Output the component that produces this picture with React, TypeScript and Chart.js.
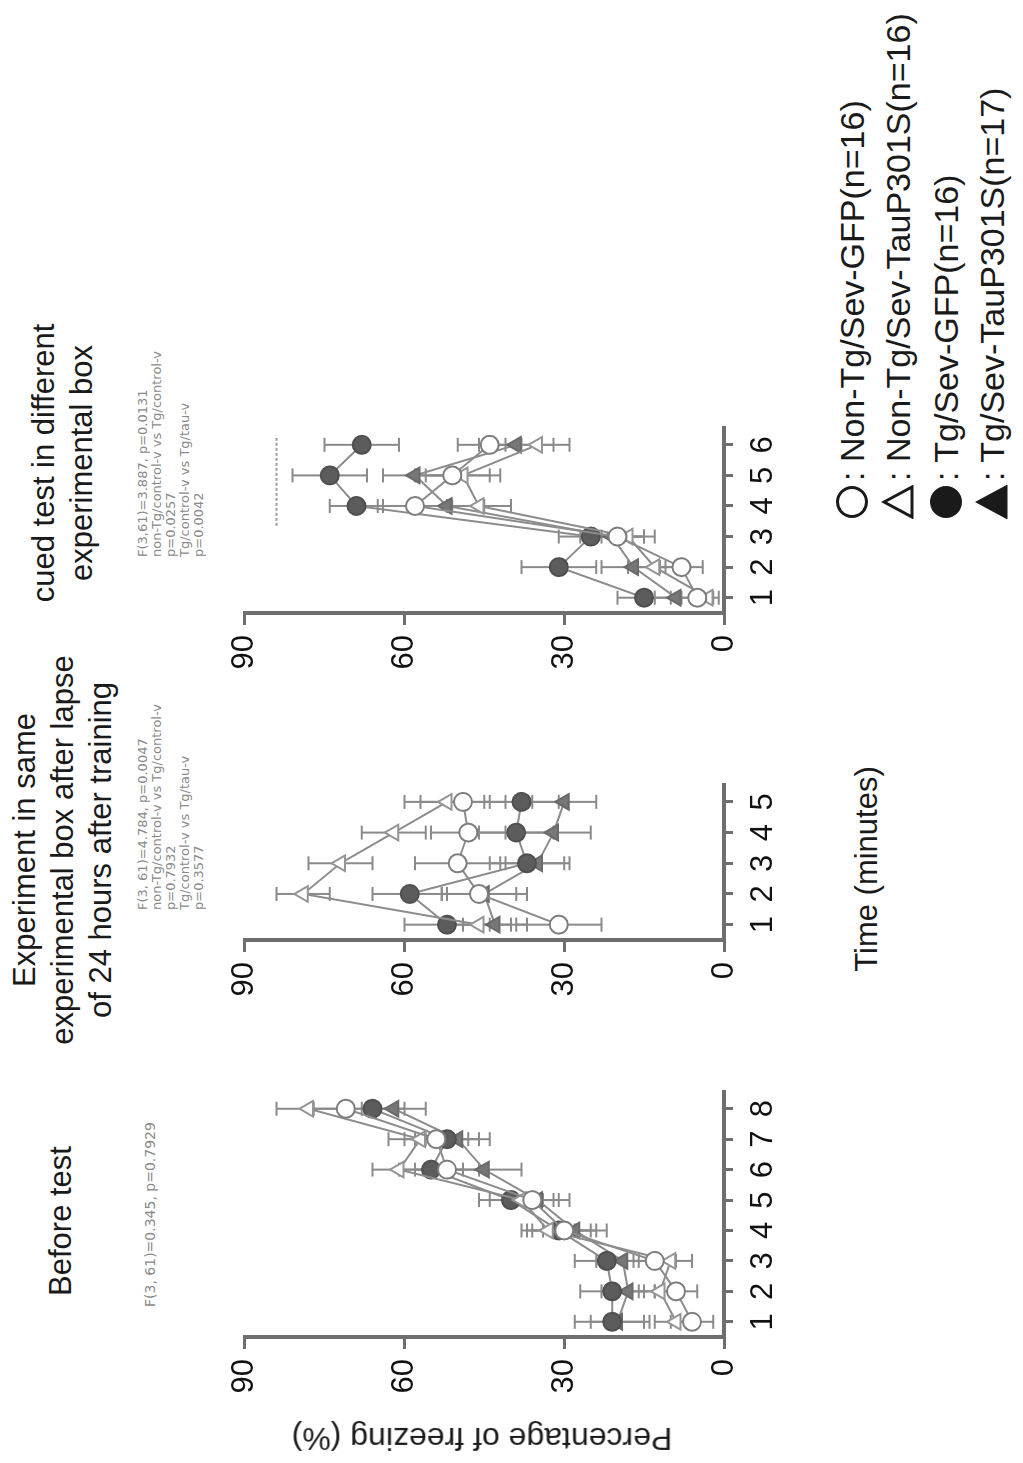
import React, { useEffect, useRef } from "react";
import { Chart, registerables } from "chart.js";

Chart.register(...registerables);

// ---------------- data ----------------
const seriesLabels = [
  "Non-Tg/Sev-GFP(n=16)",
  "Non-Tg/Sev-TauP301S(n=16)",
  "Tg/Sev-GFP(n=16)",
  "Tg/Sev-TauP301S(n=17)",
];
const legendPrefix = ": ";

const yTicks = [0, 30, 60, 90];

// Panel 1: Before test
const beforeTimes = [1, 2, 3, 4, 5, 6, 7, 8];
const beforeNonTgGFP = [6, 9, 13, 30, 36, 52, 54, 71];
const beforeNonTgGFPErr = [4, 4, 4, 6, 5, 6, 6, 6];
const beforeNonTgTau = [9, 12, 10, 33, 38, 61, 57, 78];
const beforeNonTgTauErr = [4, 4, 4, 5, 6, 5, 6, 6];
const beforeTgGFP = [21, 21, 22, 31, 40, 55, 52, 66];
const beforeTgGFPErr = [7, 6, 6, 6, 6, 6, 6, 6];
const beforeTgTau = [20, 18, 19, 28, 35, 45, 50, 62];
const beforeTgTauErr = [5, 5, 5, 6, 6, 7, 6, 6];

// Panel 2: same box after 24 h
const sameTimes = [1, 2, 3, 4, 5];
const sameNonTgGFP = [31, 46, 50, 48, 49];
const sameNonTgGFPErr = [8, 7, 8, 7, 8];
const sameNonTgTau = [46, 79, 72, 62, 52];
const sameNonTgTauErr = [6, 5, 6, 6, 8];
const sameTgGFP = [52, 59, 37, 39, 38];
const sameTgGFPErr = [8, 7, 7, 7, 7];
const sameTgTau = [43, 45, 35, 32, 30];
const sameTgTauErr = [6, 8, 6, 7, 6];

// Panel 3: cued test in different box
const cuedTimes = [1, 2, 3, 4, 5, 6];
const cuedNonTgGFP = [5, 8, 20, 58, 51, 44];
const cuedNonTgGFPErr = [3, 4, 5, 7, 7, 6];
const cuedNonTgTau = [3, 13, 18, 46, 49, 35];
const cuedNonTgTauErr = [2, 5, 5, 6, 7, 6];
const cuedTgGFP = [15, 31, 25, 69, 74, 68];
const cuedTgGFPErr = [5, 7, 6, 5, 7, 7];
const cuedTgTau = [9, 17, 21, 52, 58, 39];
const cuedTgTauErr = [4, 6, 6, 7, 6, 7];
const cuedSigX = [3.35, 6.3];
const cuedSigY = [84, 84];

// text
const beforeTitle = ["Before test"];
const beforeStats = ["F(3, 61)=0.345, p=0.7929"];
const sameTitle = [
  "Experiment in same",
  "experimental box after lapse",
  "of 24 hours after training",
];
const sameStats = [
  "F(3, 61)=4.784, p=0.0047",
  "non-Tg/control-v vs Tg/control-v",
  "p=0.7932",
  "Tg/control-v vs Tg/tau-v",
  "p=0.3577",
];
const cuedTitle = ["cued test in different", "experimental box"];
const cuedStats = [
  "F(3,61)=3.887, p=0.0131",
  "non-Tg/control-v vs Tg/control-v",
  "p=0.0257",
  "Tg/control-v vs Tg/tau-v",
  "p=0.0042",
];
const yAxisTitle = "Percentage of freezing (%)";
const xAxisTitle = "Time (minutes)";

// ---------------- styles ----------------
const FONT = '"Liberation Sans", Arial, sans-serif';
const AXIS_COLOR = "#6e6e6e";
const LINE_COLOR = "#8c8c8c";
const seriesStyles = [
  { pointStyle: "circle", bg: "#ffffff", border: "#7d7d7d" },
  { pointStyle: "triangle", bg: "#ffffff", border: "#959595" },
  { pointStyle: "circle", bg: "#5c5c5c", border: "#4f4f4f" },
  { pointStyle: "triangle", bg: "#777777", border: "#6a6a6a" },
];

const PLOT_TOP = 240;
const PLOT_BOTTOM = 724;
const Y_AXIS_W = 100;
const PAD_TOP = 24;
const PAD_RIGHT = 30;
const X_AXIS_H = 70;

const errorBarPlugin = {
  id: "errorBars",
  beforeDatasetsDraw(chart: any) {
    const { ctx } = chart;
    const xs = chart.scales.x;
    const ys = chart.scales.y;
    chart.data.datasets.forEach((ds: any) => {
      const errs = ds.errors;
      if (!errs) return;
      ctx.save();
      ctx.strokeStyle = ds.errorColor || "#888";
      ctx.lineWidth = 2;
      ds.data.forEach((pt: any, i: number) => {
        const e = errs[i];
        const px = xs.getPixelForValue(pt.x);
        const top = ys.getPixelForValue(pt.y + e);
        const bot = ys.getPixelForValue(pt.y - e);
        ctx.beginPath();
        ctx.moveTo(px, top);
        ctx.lineTo(px, bot);
        ctx.moveTo(px - 7, top);
        ctx.lineTo(px + 7, top);
        ctx.moveTo(px - 7, bot);
        ctx.lineTo(px + 7, bot);
        ctx.stroke();
      });
      ctx.restore();
    });
  },
};

type PanelProps = {
  uLeft: number;
  uRight: number;
  times: number[];
  values: number[][];
  errors: number[][];
  xMax: number;
  sig?: { xs: number[]; ys: number[] };
};

function Panel({ uLeft, uRight, times, values, errors, xMax, sig }: PanelProps) {
  const ref = useRef<HTMLCanvasElement>(null);
  const width = Y_AXIS_W + (uRight - uLeft) + PAD_RIGHT;
  const height = PAD_TOP + (PLOT_BOTTOM - PLOT_TOP) + X_AXIS_H;
  const left = uLeft - Y_AXIS_W;
  const top = PLOT_TOP - PAD_TOP;

  useEffect(() => {
    const datasets: any[] = values.map((vals, si) => ({
      label: seriesLabels[si],
      data: times.map((t, i) => ({ x: t, y: vals[i] })),
      errors: errors[si],
      errorColor: "#8a8a8a",
      borderColor: LINE_COLOR,
      borderWidth: 2,
      pointStyle: seriesStyles[si].pointStyle,
      pointRadius: 9,
      pointBackgroundColor: seriesStyles[si].bg,
      pointBorderColor: seriesStyles[si].border,
      pointBorderWidth: 2,
      tension: 0,
      clip: false,
    }));
    if (sig) {
      datasets.push({
        label: "sig",
        data: sig.xs.map((x, i) => ({ x, y: sig.ys[i] })),
        borderColor: "#a0a0a0",
        borderWidth: 2,
        borderDash: [3, 2],
        pointRadius: 0,
        clip: false,
      });
    }
    const chart = new Chart(ref.current as HTMLCanvasElement, {
      type: "line",
      data: { datasets },
      options: {
        responsive: false,
        maintainAspectRatio: false,
        animation: false,
        layout: { padding: { top: PAD_TOP, right: PAD_RIGHT, left: 0, bottom: 0 } },
        plugins: { legend: { display: false }, tooltip: { enabled: false } },
        scales: {
          x: {
            type: "linear",
            min: 0.5,
            max: xMax,
            afterBuildTicks: (axis: any) => {
              axis.ticks = times.map((t) => ({ value: t }));
            },
            afterFit: (axis: any) => {
              axis.height = X_AXIS_H;
            },
            ticks: {
              font: { family: FONT, size: 31 },
              color: "#111",
              padding: 12,
              maxRotation: 0,
              autoSkip: false,
            },
            grid: {
              drawOnChartArea: false,
              drawTicks: true,
              tickLength: 9,
              lineWidth: 3,
              color: AXIS_COLOR,
            },
            border: { display: true, width: 4, color: AXIS_COLOR },
          },
          y: {
            type: "linear",
            min: 0,
            max: 90,
            afterBuildTicks: (axis: any) => {
              axis.ticks = yTicks.map((t) => ({ value: t }));
            },
            afterFit: (axis: any) => {
              axis.width = Y_AXIS_W;
            },
            ticks: {
              font: { family: FONT, size: 31 },
              color: "#111",
              padding: 10,
            },
            grid: {
              drawOnChartArea: false,
              drawTicks: true,
              tickLength: 12,
              lineWidth: 3,
              color: AXIS_COLOR,
            },
            border: { display: true, width: 4, color: AXIS_COLOR },
          },
        },
      } as any,
      plugins: [errorBarPlugin as any],
    });
    return () => chart.destroy();
  }, []);

  return (
    <canvas
      ref={ref}
      width={width}
      height={height}
      style={{ position: "absolute", left, top, width, height }}
    />
  );
}

function Txt({
  u,
  v,
  children,
  size,
  color = "#1a1a1a",
  align = "center",
  family = FONT,
  rotate = 0,
}: any) {
  const tf =
    align === "center"
      ? `translate(-50%, -50%)${rotate ? ` rotate(${rotate}deg)` : ""}`
      : "translateY(-50%)";
  return (
    <div
      style={{
        position: "absolute",
        left: u,
        top: v,
        transform: tf,
        whiteSpace: "nowrap",
        fontFamily: family,
        fontSize: size,
        lineHeight: 1,
        color,
      }}
    >
      {children}
    </div>
  );
}

function LegendSymbol({ u, v, kind }: { u: number; v: number; kind: number }) {
  const s = 34;
  const filled = kind >= 2;
  const tri = kind % 2 === 1;
  return (
    <svg
      width={s}
      height={s}
      style={{ position: "absolute", left: u - s / 2, top: v - s / 2 }}
    >
      {tri ? (
        <polygon
          points={`${s / 2},3 ${s - 2},${s - 3} 2,${s - 3}`}
          fill={filled ? "#1a1a1a" : "#fff"}
          stroke="#1a1a1a"
          strokeWidth={3}
        />
      ) : (
        <circle
          cx={s / 2}
          cy={s / 2}
          r={s / 2 - 2.5}
          fill={filled ? "#1a1a1a" : "#fff"}
          stroke="#1a1a1a"
          strokeWidth={3}
        />
      )}
    </svg>
  );
}

const STAT_FONT = '"DejaVu Sans", sans-serif';
const STAT_COLOR = "#8a8a8a";
const STAT_SIZE = 13;
const statLineV = [142, 156, 170, 184, 198];
const legendLineV = [852, 898, 946, 992];

export default function App() {
  return (
    <div
      style={{
        position: "absolute",
        left: 0,
        top: 0,
        width: 1023,
        height: 1463,
        overflow: "hidden",
        background: "#ffffff",
      }}
    >
      <div
        style={{
          position: "absolute",
          left: 0,
          top: 0,
          width: 1463,
          height: 1023,
          transformOrigin: "0 0",
          transform: "translate(0px, 1463px) rotate(-90deg)",
          background: "#ffffff",
        }}
      >
        {/* Panel 1 */}
        <Txt u={242} v={60} size={31}>
          {beforeTitle[0]}
        </Txt>
        <Txt u={156} v={150} size={14} color={STAT_COLOR} align="left" family={STAT_FONT}>
          {beforeStats[0]}
        </Txt>
        <Panel
          uLeft={126}
          uRight={371}
          times={beforeTimes}
          xMax={8.55}
          values={[beforeNonTgGFP, beforeNonTgTau, beforeTgGFP, beforeTgTau]}
          errors={[beforeNonTgGFPErr, beforeNonTgTauErr, beforeTgGFPErr, beforeTgTauErr]}
        />

        {/* Panel 2 */}
        {sameTitle.map((t, i) => (
          <Txt key={t} u={613} v={24 + i * 38} size={31}>
            {t}
          </Txt>
        ))}
        {sameStats.map((t, i) => (
          <Txt key={t} u={553} v={statLineV[i]} size={STAT_SIZE} color={STAT_COLOR} align="left" family={STAT_FONT}>
            {t}
          </Txt>
        ))}
        <Panel
          uLeft={523}
          uRight={678}
          times={sameTimes}
          xMax={5.55}
          values={[sameNonTgGFP, sameNonTgTau, sameTgGFP, sameTgTau]}
          errors={[sameNonTgGFPErr, sameNonTgTauErr, sameTgGFPErr, sameTgTauErr]}
        />

        {/* Panel 3 */}
        {cuedTitle.map((t, i) => (
          <Txt key={t} u={1000} v={43 + i * 38} size={31}>
            {t}
          </Txt>
        ))}
        {cuedStats.map((t, i) => (
          <Txt key={t} u={906} v={statLineV[i]} size={STAT_SIZE} color={STAT_COLOR} align="left" family={STAT_FONT}>
            {t}
          </Txt>
        ))}
        <Panel
          uLeft={850}
          uRight={1035}
          times={cuedTimes}
          xMax={6.55}
          values={[cuedNonTgGFP, cuedNonTgTau, cuedTgGFP, cuedTgTau]}
          errors={[cuedNonTgGFPErr, cuedNonTgTauErr, cuedTgGFPErr, cuedTgTauErr]}
          sig={{ xs: cuedSigX, ys: cuedSigY }}
        />

        {/* axis titles */}
        <Txt u={24} v={482} size={32} rotate={-90}>
          {yAxisTitle}
        </Txt>
        <Txt u={594} v={866} size={31}>
          {xAxisTitle}
        </Txt>

        {/* legend */}
        {seriesLabels.map((lab, i) => (
          <React.Fragment key={lab}>
            <LegendSymbol u={961} v={legendLineV[i]} kind={i} />
            <Txt u={982} v={legendLineV[i]} size={34} align="left">
              {legendPrefix + lab}
            </Txt>
          </React.Fragment>
        ))}
      </div>
    </div>
  );
}
